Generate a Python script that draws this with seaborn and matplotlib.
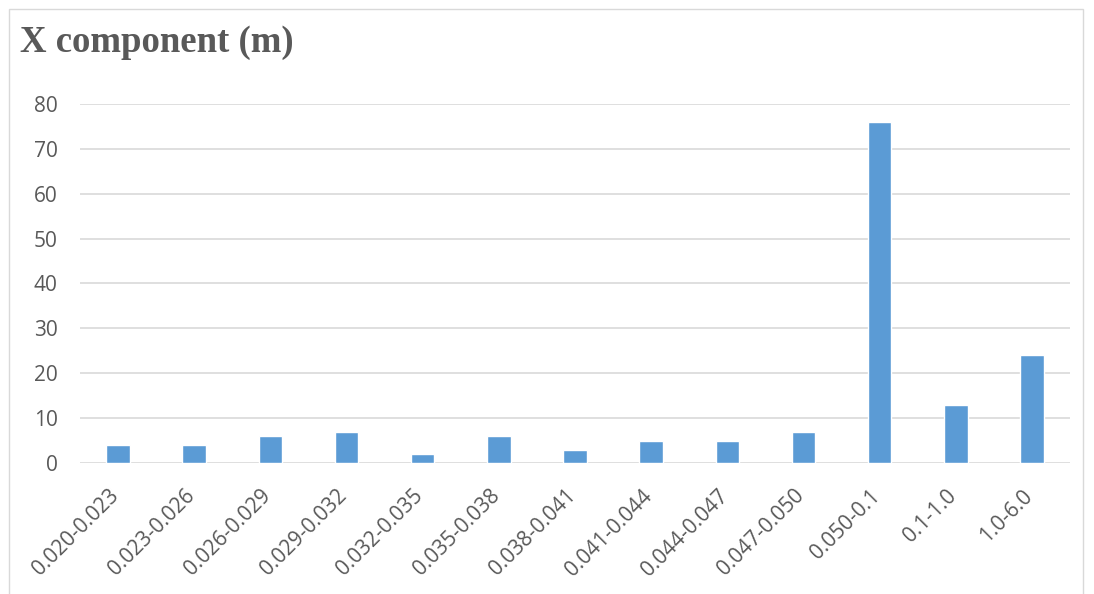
import seaborn as sns
import pandas as pd
import matplotlib.pyplot as plt
import matplotlib.transforms as mtransforms
from matplotlib.patches import Rectangle

ranges = ['0.020-0.023', '0.023-0.026', '0.026-0.029', '0.029-0.032', '0.032-0.035',
          '0.035-0.038', '0.038-0.041', '0.041-0.044', '0.044-0.047', '0.047-0.050',
          '0.050-0.1', '0.1-1.0', '1.0-6.0']
counts = [4, 4, 6, 7, 2, 6, 3, 5, 5, 7, 76, 13, 24]
yticks = [0, 10, 20, 30, 40, 50, 60, 70, 80]

sns.set_style('white')
plt.rcParams['font.family'] = ['Open Sans', 'DejaVu Sans']

df = pd.DataFrame({'range': ranges, 'count': counts})

fig = plt.figure(figsize=(10.94, 5.94), dpi=100)
ax = fig.add_axes([0.0731, 0.2205, 0.905, 0.6045])

sns.barplot(data=df, x='range', y='count', color='#5B9BD5', width=0.31,
            saturation=1, ax=ax, zorder=3)

ax.set_ylim(0, 80)
ax.set_yticks(yticks)
ax.set_xlim(-0.5, len(ranges) - 0.5)
ax.grid(axis='y', color='#D9D9D9', linewidth=1.2, zorder=0)
for s in ax.spines.values():
    s.set_visible(False)
ax.set_xlabel('')
ax.set_ylabel('')
ax.tick_params(axis='both', length=0, labelsize=15, labelcolor='#595959')
ax.tick_params(axis='y', pad=16)
ax.tick_params(axis='x', pad=6)
shift = mtransforms.ScaledTranslation(-0.10, -0.14, fig.dpi_scale_trans)
for lbl in ax.get_xticklabels():
    lbl.set_rotation(45)
    lbl.set_ha('right')
    lbl.set_va('top')
    lbl.set_rotation_mode('anchor')
    lbl.set_transform(lbl.get_transform() + shift)

fig.text(0.018, 0.912, 'X component (m)', fontsize=26.5, fontweight='bold',
         color='#595959', family='Liberation Serif')

fig.patches.append(Rectangle((0.008, -0.01), 0.982, 0.995, transform=fig.transFigure,
                             fill=False, edgecolor='#D9D9D9', linewidth=1))

plt.savefig('out.png', dpi=100)
